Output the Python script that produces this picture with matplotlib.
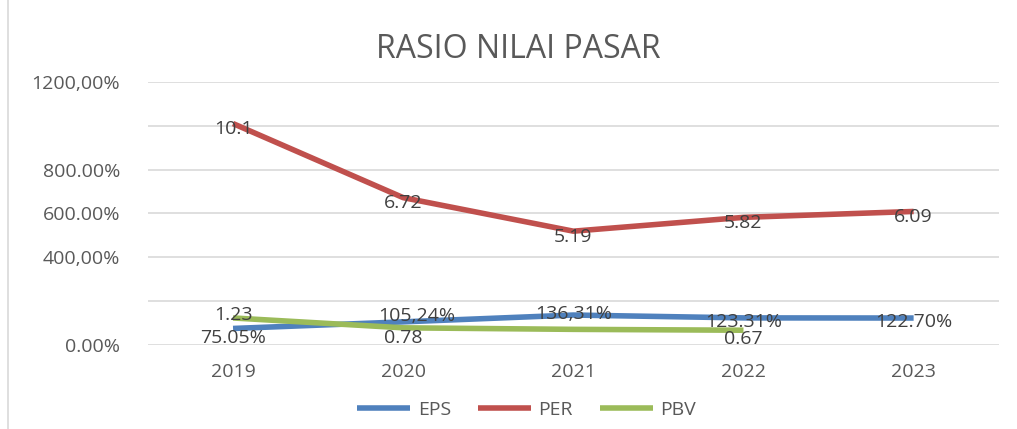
import matplotlib
matplotlib.use("Agg")
import matplotlib.pyplot as plt

years = ["2019", "2020", "2021", "2022", "2023"]
eps = [75.05, 105.24, 136.31, 123.31, 122.70]
per = [1010, 672, 519, 582, 609]
pbv = [123, 78, 71, 67]
eps_labels = ["75.05%", "105,24%", "136,31%", "123.31%", "122.70%"]
per_labels = ["10.1", "6.72", "5.19", "5.82", "6.09"]
pbv_labels = ["1.23", "0.78", "", "0.67"]
yticks = [0, 200, 400, 600, 800, 1000, 1200]
ytick_labels = ["0.00%", "", "400,00%", "600.00%", "800.00%", "", "1200,00%"]

plt.rcParams['font.family'] = ['Open Sans', 'DejaVu Sans']
txt = "#595959"
fig = plt.figure(figsize=(10.17, 4.29), dpi=100)
ax = fig.add_axes([0.1455, 0.196, 0.8365, 0.613])

x = list(range(len(years)))
c_eps, c_per, c_pbv = "#4F81BD", "#C0504D", "#9BBB59"
ax.plot(x, eps, color=c_eps, lw=4, label="EPS", solid_capstyle="butt")
ax.plot(x, per, color=c_per, lw=4, label="PER", solid_capstyle="butt")
ax.plot(x[:len(pbv)], pbv, color=c_pbv, lw=4, label="PBV", solid_capstyle="butt")

fs = 14
lab = "#404040"
for xi, v, s in zip(x, per, per_labels):
    ax.annotate(s, (xi, v), xytext=(0, -4), textcoords="offset points",
                ha="center", va="center", fontsize=fs, color=lab)
eps_off = [(0, -7), (10, 4), (0, 1), (0, -3), (0, -3)]
for xi, v, s, o in zip(x, eps, eps_labels, eps_off):
    ax.annotate(s, (xi, v), xytext=o, textcoords="offset points",
                ha="center", va="center", fontsize=fs, color=lab)
pbv_off = [(0, 2), (0, -7), (0, 0), (0, -6)]
for xi, v, s, o in zip(x, pbv, pbv_labels, pbv_off):
    if s:
        ax.annotate(s, (xi, v), xytext=o, textcoords="offset points",
                    ha="center", va="center", fontsize=fs, color=lab)

ax.set_xlim(-0.5, len(years) - 0.5)
ax.set_ylim(0, 1200)
ax.set_yticks(yticks)
ax.set_yticklabels(ytick_labels)
ax.set_xticks(x)
ax.set_xticklabels(years)
ax.grid(axis="y", color="#D9D9D9", lw=1.2)
ax.set_axisbelow(True)
for sp in ax.spines.values():
    sp.set_visible(False)
ax.tick_params(length=0, labelsize=14, colors=txt)
ax.tick_params(axis="x", pad=13)
ax.tick_params(axis="y", pad=20)

fig.text(0.51, 0.885, "RASIO NILAI PASAR", ha="center", va="center",
         fontsize=23, color=txt)
leg = fig.legend(loc="center", bbox_to_anchor=(0.518, 0.045), ncol=3, frameon=False,
                 fontsize=14, handlelength=2.7, handletextpad=0.4,
                 columnspacing=1.4, labelcolor=txt)
fig.add_artist(plt.Line2D([0.008, 0.008], [0.0, 1.0], color="#D9D9D9", lw=1.2,
                          transform=fig.transFigure))
fig.savefig("out.png", dpi=100)
